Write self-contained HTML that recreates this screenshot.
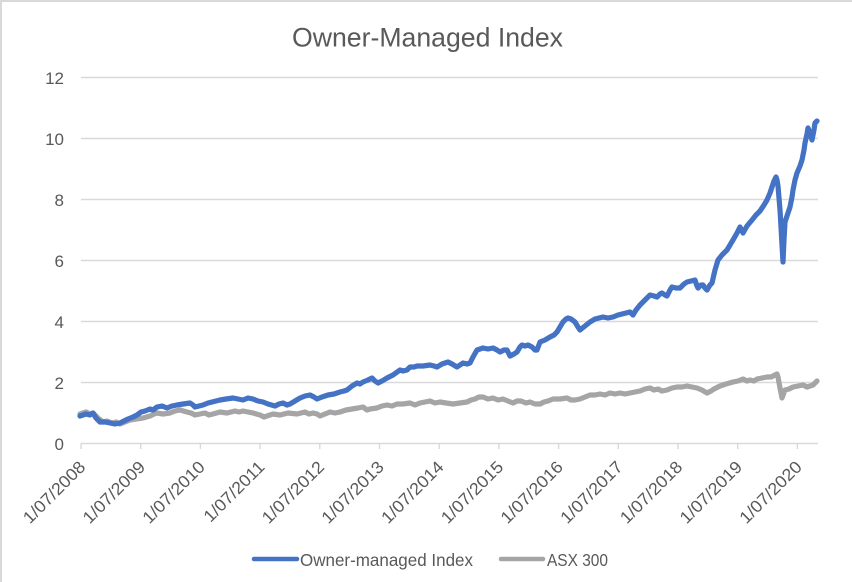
<!DOCTYPE html>
<html>
<head>
<meta charset="utf-8">
<style>
  html,body{margin:0;padding:0;background:#fff;}
  svg{display:block;}
  text{font-family:"Liberation Sans",Arial,sans-serif;fill:#595959;}
</style>
</head>
<body>
<svg width="852" height="582" viewBox="0 0 852 582" xmlns="http://www.w3.org/2000/svg">
  <rect x="0" y="0" width="852" height="582" fill="#ffffff"/>
  <line x1="0" y1="1" x2="852" y2="1" stroke="#d9d9d9" stroke-width="2"/>
  <line x1="1" y1="0" x2="1" y2="582" stroke="#d9d9d9" stroke-width="2"/>

  <text x="292" y="46.5" font-size="26.5" textLength="271" lengthAdjust="spacingAndGlyphs">Owner-Managed Index</text>

  <g stroke="#d9d9d9" stroke-width="1.4">
    <line x1="81" y1="77.5" x2="818" y2="77.5"/>
    <line x1="81" y1="138.5" x2="818" y2="138.5"/>
    <line x1="81" y1="199.5" x2="818" y2="199.5"/>
    <line x1="81" y1="260.5" x2="818" y2="260.5"/>
    <line x1="81" y1="321.5" x2="818" y2="321.5"/>
    <line x1="81" y1="382.5" x2="818" y2="382.5"/>
    <line x1="81" y1="443.5" x2="818" y2="443.5"/>
  </g>
  <g stroke="#d9d9d9" stroke-width="1.4">
    <line x1="81" y1="443.5" x2="81" y2="449"/>
    <line x1="140.7" y1="443.5" x2="140.7" y2="449"/>
    <line x1="200.4" y1="443.5" x2="200.4" y2="449"/>
    <line x1="260.1" y1="443.5" x2="260.1" y2="449"/>
    <line x1="319.8" y1="443.5" x2="319.8" y2="449"/>
    <line x1="379.5" y1="443.5" x2="379.5" y2="449"/>
    <line x1="439.2" y1="443.5" x2="439.2" y2="449"/>
    <line x1="498.9" y1="443.5" x2="498.9" y2="449"/>
    <line x1="558.6" y1="443.5" x2="558.6" y2="449"/>
    <line x1="618.3" y1="443.5" x2="618.3" y2="449"/>
    <line x1="678" y1="443.5" x2="678" y2="449"/>
    <line x1="737.7" y1="443.5" x2="737.7" y2="449"/>
    <line x1="797.4" y1="443.5" x2="797.4" y2="449"/>
  </g>

  <g font-size="17" text-anchor="end">
    <text x="64" y="84">12</text>
    <text x="64" y="145">10</text>
    <text x="64" y="206">8</text>
    <text x="64" y="267">6</text>
    <text x="64" y="328">4</text>
    <text x="64" y="389">2</text>
    <text x="64" y="450">0</text>
  </g>

  <g font-size="17" text-anchor="end">
    <text transform="translate(86.5,468) rotate(-45)" textLength="80" lengthAdjust="spacingAndGlyphs">1/07/2008</text>
    <text transform="translate(146.2,468) rotate(-45)" textLength="80" lengthAdjust="spacingAndGlyphs">1/07/2009</text>
    <text transform="translate(205.9,468) rotate(-45)" textLength="80" lengthAdjust="spacingAndGlyphs">1/07/2010</text>
    <text transform="translate(265.6,468) rotate(-45)" textLength="78" lengthAdjust="spacingAndGlyphs">1/07/2011</text>
    <text transform="translate(325.3,468) rotate(-45)" textLength="80" lengthAdjust="spacingAndGlyphs">1/07/2012</text>
    <text transform="translate(385,468) rotate(-45)" textLength="80" lengthAdjust="spacingAndGlyphs">1/07/2013</text>
    <text transform="translate(444.7,468) rotate(-45)" textLength="80" lengthAdjust="spacingAndGlyphs">1/07/2014</text>
    <text transform="translate(504.4,468) rotate(-45)" textLength="80" lengthAdjust="spacingAndGlyphs">1/07/2015</text>
    <text transform="translate(564.1,468) rotate(-45)" textLength="80" lengthAdjust="spacingAndGlyphs">1/07/2016</text>
    <text transform="translate(623.8,468) rotate(-45)" textLength="80" lengthAdjust="spacingAndGlyphs">1/07/2017</text>
    <text transform="translate(683.5,468) rotate(-45)" textLength="80" lengthAdjust="spacingAndGlyphs">1/07/2018</text>
    <text transform="translate(743.2,468) rotate(-45)" textLength="80" lengthAdjust="spacingAndGlyphs">1/07/2019</text>
    <text transform="translate(802.9,468) rotate(-45)" textLength="80" lengthAdjust="spacingAndGlyphs">1/07/2020</text>
  </g>

  <polyline fill="none" stroke="#A5A5A5" stroke-width="5.2" stroke-linejoin="round" stroke-linecap="round"
    points="80,414 83,413 86,412 90,414 93,413 96,416 98,418 103,422 107,421 112,423 116,422 120,424 125,422 130,420 136,419 143,418 150,416 154,414 157,413 163,414 170,413 175,411 180,410 187,412 191,413 195,415 200,414 205,413 209,415 213,414 220,412 227,413 235,411 239,412 243,411 248,412 253,413 260,415 264,417 267,416 273,414 280,415 288,413 297,414 305,412 309,414 313,413 317,414 320,416 325,414 330,412 335,413 340,412 346,410 352,409 358,408 363,407 367,410 370,409 377,408 382,406 387,405 392,406 397,404 403,404 410,403 415,405 420,403 425,402 430,401 435,403 440,402 446,403 453,404 460,403 467,402 471,400 475,399 479,397 483,397 488,399 493,398 498,400 503,399 508,401 513,403 517,401 521,401 526,403 530,402 535,404 540,404 544,402 548,401 553,399 560,399 567,398 571,400 575,400 580,399 585,397 590,395 595,395 600,394 605,395 610,393 615,394 620,393 625,394 630,393 635,392 640,391 645,389 650,388 654,390 658,389 662,391 667,390 672,388 677,387 682,387 687,386 692,387 697,388 702,390 707,393 711,391 714,389 720,386 726,384 733,382 738,381 743,379 747,381 750,380 754,381 757,379 762,378 767,377 771,377 775,375 777,374 778,377 780,388 782,398 785,390 789,389 793,387 798,386 803,385 807,387 810,386 813,385 815,383 817,381"/>

  <polyline fill="none" stroke="#4472C4" stroke-width="5.2" stroke-linejoin="round" stroke-linecap="round"
    points="80,416 83,415 86,414 90,415 93,413 96,418 100,422 105,422 110,423 115,424 120,423 124,421 128,419 133,417 137,415 141,412 145,411 150,409 153,410 157,407 162,406 167,408 172,406 177,405 183,404 190,403 193,405 195,407 199,406 203,405 208,403 212,402 216,401 220,400 226,399 233,398 238,399 243,400 248,398 253,399 258,401 263,402 268,404 275,406 279,404 283,403 287,405 290,404 295,401 300,398 305,396 310,395 314,397 317,399 322,397 328,395 334,394 337,393 340,392 344,391 347,390 352,386 357,383 360,384 363,382 368,380 372,378 375,381 378,383 382,381 387,378 393,375 400,370 403,371 407,370 410,367 414,367 417,366 423,366 430,365 434,366 437,367 442,364 448,362 452,364 457,367 460,365 463,363 467,364 470,363 473,357 477,350 480,349 483,348 488,349 493,348 497,350 500,352 504,350 507,350 509,354 510,356 514,354 517,352 520,347 522,345 525,346 528,345 532,347 535,350 537,350 540,342 545,340 550,337 554,335 557,332 560,327 563,322 566,319 568,318 571,319 575,322 578,327 580,330 585,326 590,322 595,319 599,318 603,317 608,318 613,317 618,315 622,314 626,313 630,312 633,315 636,310 640,305 645,300 650,295 654,296 657,297 660,294 662,293 665,295 667,296 670,290 672,287 676,288 680,288 684,284 687,282 691,281 695,280 697,286 698,288 701,285 703,285 705,288 707,290 710,285 712,283 715,270 718,260 722,255 727,250 730,245 733,240 737,233 740,227 743,233 747,226 752,220 756,215 760,211 764,205 767,200 770,193 772,187 774,181 776,177 777,180 778,186 780,210 781,227 782,245 783,262 784,240 785,222 788,213 790,207 792,197 793,190 795,180 797,173 800,166 802,160 804,150 805,143 807,134 808,128 810,133 812,140 814,130 815,123 817,121"/>

  <line x1="254" y1="559" x2="297" y2="559" stroke="#4472C4" stroke-width="4.5" stroke-linecap="round"/>
  <text x="300" y="566" font-size="17.5" textLength="173" lengthAdjust="spacingAndGlyphs">Owner-managed Index</text>
  <line x1="501" y1="559" x2="543" y2="559" stroke="#A5A5A5" stroke-width="4.5" stroke-linecap="round"/>
  <text x="547" y="566" font-size="17.5" textLength="61" lengthAdjust="spacingAndGlyphs">ASX 300</text>
</svg>
</body>
</html>
